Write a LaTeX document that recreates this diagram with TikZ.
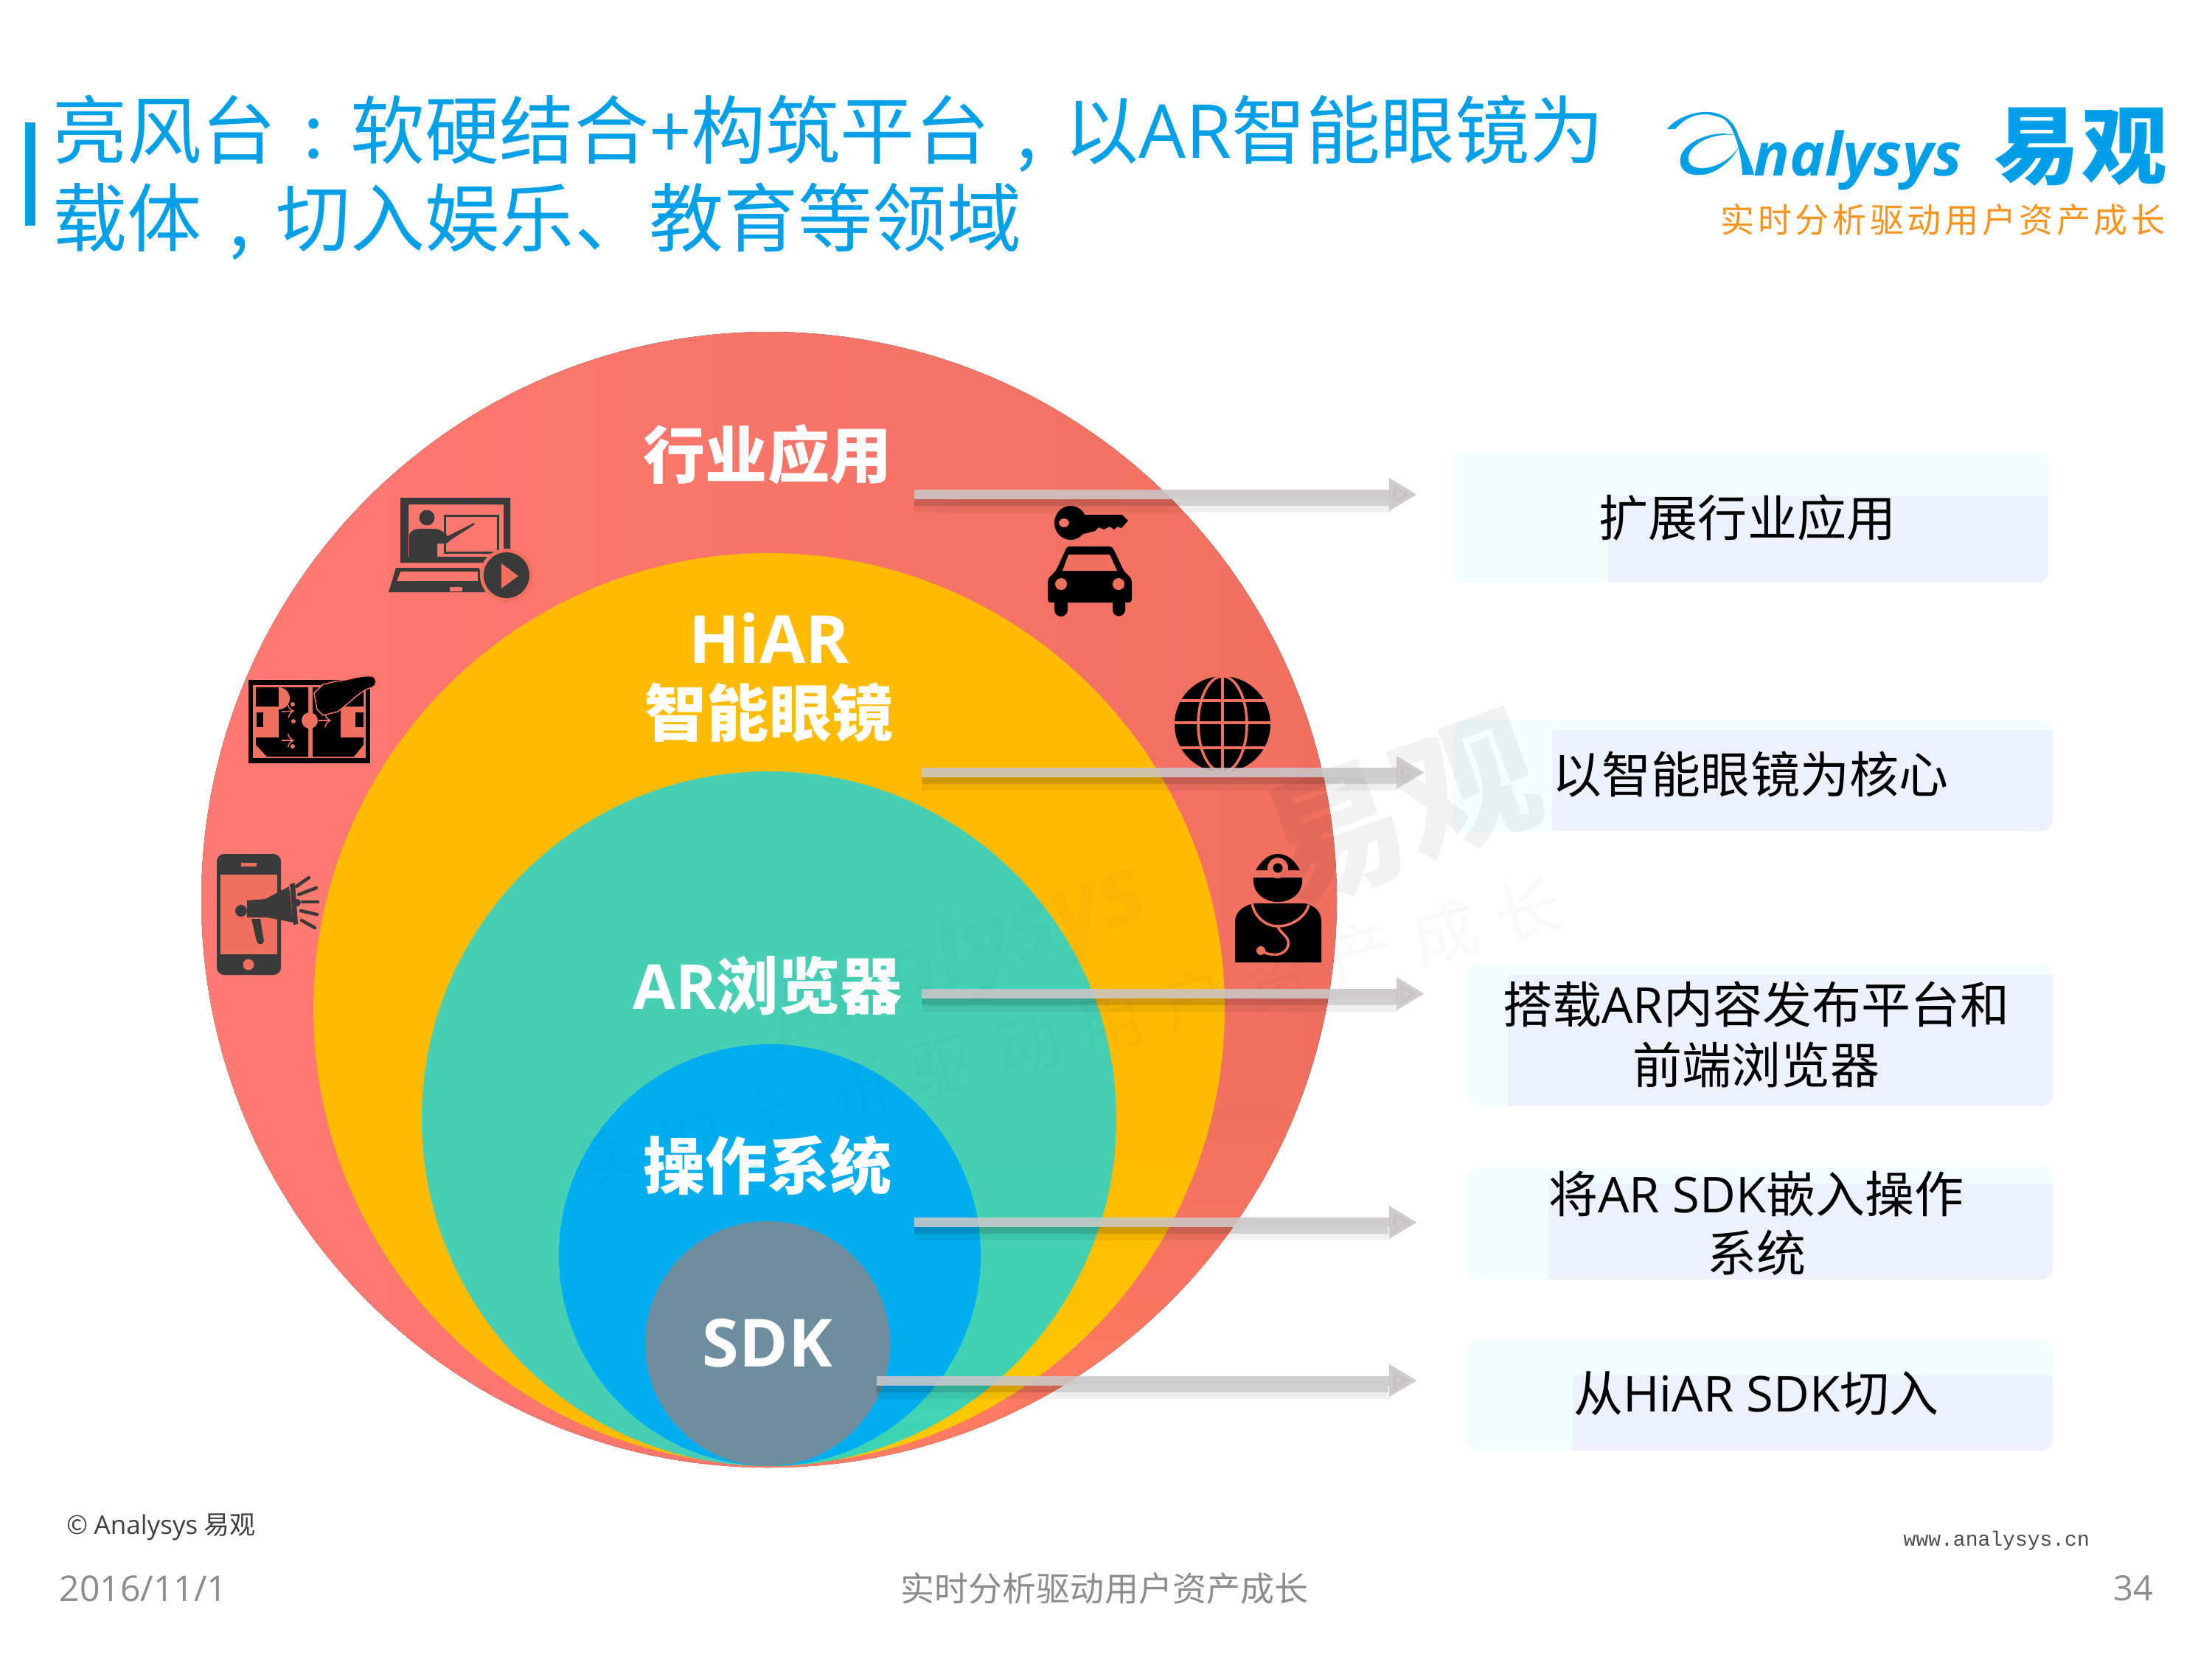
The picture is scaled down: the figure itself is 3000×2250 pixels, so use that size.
\documentclass[tikz,border=0pt]{standalone}
\usepackage{fontspec}
\setmainfont{Noto Sans CJK SC}
\newfontfamily\la{Open Sans}
\newfontfamily\mon{Liberation Mono}
\usetikzlibrary{arrows.meta}
\newcommand\fsz[1]{\fontsize{\fpeval{#1*0.2845}pt}{\fpeval{#1*0.2845*1.2}pt}\selectfont}
\newcommand\px[1]{#1*0.2845pt}
\newcommand\wcol{\makebox[1em][c]{\char"003A}}
\newcommand\wcom{\makebox[1em][c]{\char"002C}}
\definecolor{ttl}{HTML}{00A0E9}
\definecolor{rd}{HTML}{F0705F}
\definecolor{rdl}{HTML}{FF7A72}
\definecolor{rdo}{HTML}{FF7B62}
\definecolor{yl}{HTML}{FFBB00}
\definecolor{yll}{HTML}{FFC800}
\definecolor{tl}{HTML}{46CFB5}
\definecolor{tll}{HTML}{3DD4B5}
\definecolor{bl}{HTML}{00AEEF}
\definecolor{sdk}{HTML}{6E8E9F}
\definecolor{dk}{HTML}{3A3A3A}
\definecolor{pale}{HTML}{F3FEFE}
\definecolor{lav}{HTML}{EDF1FD}
\definecolor{bar}{HTML}{C9C5C7}
\definecolor{ft}{HTML}{8C8C8C}
\definecolor{org}{HTML}{F7931E}
\tikzset{
 wlabel/.style={text=white,font=\bfseries\fsz{84},align=center,inner sep=0pt},
 boxtxt/.style={text=black,font=\fsz{67},align=center,inner sep=0pt},
 footer/.style={text=ft,inner sep=0pt},
 barline/.style={line width=\px{13},color=bar,opacity=.88,-{Triangle[length=\px{38},width=\px{42}]}},
 redline/.style={draw=rd,line width=\px{3.5}},
 ray/.style={draw=dk,line width=\px{4.5},line cap=round}
}
\newcommand\bx[6]{% x1 y1 x2 y2 lavx lavy
 \fill[pale,rounded corners=\px{16}] (#1,#2) rectangle (#3,#4);
 \begin{scope}
 \clip[rounded corners=\px{16}] (#1,#2) rectangle (#3,#4);
 \fill[lav] (#5,#6) rectangle (#3,#4);
 \end{scope}}
\begin{document}
\begin{tikzpicture}[x=0.01cm,y=-0.01cm]
\useasboundingbox (0,0) rectangle (3000,2250);
\fill[white] (0,0) rectangle (3000,2250);

% title
\fill[ttl] (34,166) rectangle (48,306);
\node[anchor=west,text=ttl,inner sep=0pt,font=\fsz{101}] (title1) at (71,181) {亮风台\wcol 软硬结合{\la +}构筑平台\wcom 以{\la AR}智能眼镜为};
\node[anchor=west,text=ttl,inner sep=0pt,font=\fsz{101}] (title2) at (71,300) {载体\wcom 切入娱乐、教育等领域};

% logo
\fill[ttl] (2261,175) .. controls (2280,150) and (2345,135) .. (2358,185) .. controls (2365,200) and (2375,220) .. (2379,237) -- (2363,237) .. controls (2362,205) and (2350,165) .. (2335,160) .. controls (2305,148) and (2285,160) .. (2272,175) -- cycle;
\fill[ttl] (2352,183) .. controls (2320,175) and (2280,195) .. (2279,215) .. controls (2277,235) and (2295,240) .. (2315,236) .. controls (2335,230) and (2350,215) .. (2358,200) .. controls (2345,218) and (2325,228) .. (2308,228) .. controls (2295,228) and (2288,222) .. (2290,212) .. controls (2293,195) and (2322,180) .. (2352,183) -- cycle;
\node[anchor=base west,text=ttl,inner sep=0pt,font=\la\bfseries\itshape\fsz{81}] (lognal) at (2378,238) {nalysys};
\node[anchor=base west,text=ttl,inner sep=0pt,font=\bfseries\fsz{116}\addfontfeature{LetterSpace=2}] (logyi) at (2704,240) {易观};
\node[anchor=base west,text=org,inner sep=0pt,font=\fsz{46}\addfontfeature{LetterSpace=10}] (logsl) at (2333,315) {实时分析驱动用户资产成长};

% circles
\fill[left color=rdl,right color=rd] (1043,1220) circle[radius=770];
\begin{scope}
 \clip (1043,1220) circle[radius=770];
 \shade[top color=rd,bottom color=rdo] (1000,1500) rectangle (1900,1950);
 \fill[rdo] (1000,1950) rectangle (1900,2000);
\end{scope}
\fill[yl] (1043,1368) circle[radius=618];
\begin{scope}
 \clip (1043,1368) circle[radius=618];
 \shade[top color=yl,bottom color=yll] (1000,1560) rectangle (1700,1950);
 \fill[yll] (1000,1950) rectangle (1700,2000);
\end{scope}
\fill[tl] (1043,1517) circle[radius=471];
\begin{scope}
 \clip (1043,1517) circle[radius=471];
 \shade[top color=tl,bottom color=tll] (1000,1560) rectangle (1700,1950);
 \fill[tll] (1000,1950) rectangle (1700,2000);
\end{scope}
\fill[bl] (1044,1702) circle[radius=286];
\fill[sdk] (1041,1822) circle[radius=166];

% labels in circles
\node[wlabel] (l1) at (1041,616) {行业应用};
\node[wlabel,font=\la\bfseries\fsz{90}] (l2) at (1043,865) {HiAR};
\node[wlabel] (l2b) at (1043,966) {智能眼镜};
\node[wlabel] (l3) at (1041,1337) {{\la AR}浏览器};
\node[wlabel] (l4) at (1041,1580) {操作系统};
\node[wlabel,font=\la\bfseries\fsz{90}] (l5) at (1041,1821) {SDK};

% laptop icon
\fill[dk,even odd rule] (543,675) rectangle (692,763) (554,684) rectangle (683,755);
\fill[dk] (579,702) circle[radius=10.5];
\fill[dk] (555,755) -- (555,725) .. controls (556,719) and (565,717) .. (570,717) -- (590,717) .. controls (598,718) and (603,722) .. (607,727) -- (643,709) -- (644,711) -- (610,733) .. controls (607,738) and (602,737) .. (593,737) -- (593,755) -- cycle;
\draw[dk,line width=\px{3}] (603,699) rectangle (675,749);
\fill[dk,even odd rule] (537,770) -- (650,770) -- (658,803) -- (527,803) -- cycle (543,775) -- (648,775) -- (648,788) -- (538,788) -- cycle (610,796) rectangle (627,802);
\fill[rd] (687,780) circle[radius=36];
\fill[dk] (687,780) circle[radius=31];
\fill[rd] (680,764) -- (703,781) -- (680,798) -- cycle;

% tactics board icon
\fill[black] (337,922) rectangle (502,1035);
\fill[rd] (343,929) rectangle (496,1028);
\fill[black] (347,932) -- (418,932) -- (418,1026) -- (362,1026) -- (347,1010) -- (347,1000) -- (378,1000) -- (378,958) -- (347,958) -- (347,945) -- cycle;
\fill[black] (424,932) -- (493,932) -- (493,958) -- (462,958) -- (462,1000) -- (493,1000) -- (493,1010) -- (480,1026) -- (424,1026) -- cycle;
\fill[rd] (420,977) circle[radius=11];
\fill[rd] (378,962) arc[start angle=90,end angle=-90,radius=15] -- cycle;
\fill[rd] (462,962) arc[start angle=90,end angle=270,radius=15] -- cycle;
\fill[black] (348,966) rectangle (357,986);
\fill[black] (482,966) rectangle (493,986);
\draw[rd,line width=\px{1.5},->] (382,965) -- (399,964);
\draw[rd,line width=\px{1.5},->] (382,1004) -- (399,1004);
\draw[rd,line width=\px{1.5},->] (432,977) -- (449,977);
\fill[rd] (397,955) circle[radius=3];
\fill[rd] (398,978) circle[radius=3];
\fill[rd] (397,1012) circle[radius=3];
\fill[rd] (363,964) circle[radius=3];
\fill[black,draw=rd,line width=\px{1.5}] (426,940) -- (438,928) -- (455,924) .. controls (475,922) and (490,915) .. (505,917) .. controls (512,920) and (511,930) .. (505,932) .. controls (490,935) and (478,950) .. (458,965) -- (438,970) -- (430,962) -- cycle;

% phone + megaphone icon
\fill[dk,rounded corners=\px{10}] (294,1158) rectangle (381,1322);
\fill[rd] (299,1186) rectangle (376,1294);
\fill[rd] (327,1170) rectangle (348,1175);
\fill[rd] (337,1308) circle[radius=7.5];
\fill[dk] (335,1221) -- (360,1219) -- (392,1202) -- (398,1251) -- (362,1244) -- (335,1244) -- cycle;
\fill[dk] (327,1235) circle[radius=8];
\fill[dk] (341,1246) -- (353,1246) -- (358,1276) .. controls (356,1282) and (350,1282) .. (348,1276) -- cycle;
\fill[dk] (393,1199) -- (400,1197) -- (404,1253) -- (398,1254) -- cycle;
\fill[dk] (403,1224) circle[radius=5];
\draw[ray] (402,1202) -- (419,1190);
\draw[ray] (405,1213) -- (429,1204);
\draw[ray] (410,1223) -- (431,1223);
\draw[ray] (408,1235) -- (430,1240);
\draw[ray] (409,1248) -- (427,1258);

% key + car icon
\fill[black,even odd rule] (1452,709) ellipse[x radius=22,y radius=23] (1443,709) ellipse[x radius=7,y radius=6];
\fill[black] (1465,698) -- (1522,698) -- (1530,706) -- (1521,716) -- (1516,714) -- (1511,718) -- (1505,714) -- (1497,718) -- (1490,715) -- (1485,720) -- (1466,725) -- cycle;
\fill[black,rounded corners=\px{4}] (1421,817) -- (1421,785) -- (1432,774) -- (1444,748) .. controls (1447,741) and (1450,741) .. (1458,741) -- (1498,741) .. controls (1505,741) and (1508,741) .. (1512,748) -- (1524,774) -- (1535,785) -- (1535,817) -- cycle;
\fill[rd] (1441,774) -- (1449,752) -- (1505,752) -- (1515,774) -- cycle;
\fill[rd] (1439,792) circle[radius=8];
\fill[rd] (1517,792) circle[radius=8];
\fill[black] (1430,815) rectangle (1448,827) (1509,815) rectangle (1526,827);
\fill[black] (1439,827) circle[radius=9];
\fill[black] (1517.5,827) circle[radius=8.5];

% globe icon
\fill[black] (1658,982) circle[radius=65];
\draw[redline] (1658,982) ellipse[x radius=33,y radius=65];
\draw[redline] (1658,917) -- (1658,1047);
\draw[redline] (1600,950) -- (1716,950);
\draw[redline] (1593,980) -- (1723,980);
\draw[redline] (1600,1014) -- (1716,1014);

% doctor icon
\fill[black] (1703,1180) .. controls (1712,1165) and (1722,1158) .. (1733,1158) .. controls (1745,1158) and (1755,1165) .. (1763,1180) -- cycle;
\fill[black] (1700,1190) -- (1766,1190) .. controls (1768,1210) and (1752,1223) .. (1733,1223) .. controls (1714,1223) and (1698,1210) .. (1700,1190) -- cycle;
\fill[rd] (1733,1177) circle[radius=14];
\fill[black] (1733,1177) circle[radius=6.5];
\fill[black] (1675,1305) -- (1675,1250) .. controls (1675,1235) and (1688,1228) .. (1700,1225) -- (1770,1225) .. controls (1782,1228) and (1792,1235) .. (1792,1250) -- (1792,1305) -- cycle;
\draw[redline] (1698,1225) .. controls (1702,1245) and (1718,1256) .. (1733,1256) .. controls (1750,1256) and (1770,1245) .. (1775,1227);
\draw[redline] (1733,1256) .. controls (1735,1265) and (1750,1270) .. (1747,1282) .. controls (1744,1296) and (1725,1298) .. (1710,1289);
\fill[rd] (1710,1289) circle[radius=6];

% boxes
\bx{1971}{612}{2778}{790}{2181}{673}
\bx{1971}{976}{2784}{1127}{2105}{990}
\bx{1990}{1307}{2784}{1500}{2045}{1322}
\bx{1990}{1582}{2784}{1735}{2100}{1605}
\bx{1990}{1816}{2784}{1967}{2133}{1865}

% watermark (very faint)
\node[rotate=20,text=black,opacity=.025,inner sep=0pt,font=\la\bfseries\itshape\fsz{130}] (wm1) at (1300,1300) {Analysys};
\node[rotate=15,text=black,opacity=.025,inner sep=0pt,font=\fsz{90}\addfontfeature{LetterSpace=30}] (wm3) at (1450,1400) {实时分析驱动用户资产成长};
\node[rotate=20,text=black,opacity=.05,inner sep=0pt,font=\bfseries\fsz{190}] (wm2) at (1900,1100) {易观};

\node[boxtxt] (b1) at (2370,702) {扩展行业应用};
\node[boxtxt] (b2) at (2374,1050) {以智能眼镜为核心};
\node[boxtxt] (b3a) at (2382,1362) {搭载{\la AR}内容发布平台和};
\node[boxtxt] (b3b) at (2382,1444) {前端浏览器};
\node[boxtxt] (b4a) at (2382,1619) {将{\la AR SDK}嵌入操作};
\node[boxtxt] (b4b) at (2382,1699) {系统};
\node[boxtxt] (b5) at (2382,1890) {从{\la HiAR SDK}切入};

% connector end points
\coordinate (s1) at (1240,670.5); \coordinate (t1) at (1922,670.5);
\coordinate (s2) at (1250,1047.5); \coordinate (t2) at (1932,1047.5);
\coordinate (s3) at (1250,1347.5); \coordinate (t3) at (1932,1347.5);
\coordinate (s4) at (1240,1657.5); \coordinate (t4) at (1922,1657.5);
\coordinate (s5) at (1189,1872); \coordinate (t5) at (1922,1872);

% shadows under connectors + connectors
\foreach \n/\xa/\xb/\yy in {1/1240/1885/677,2/1250/1895/1054,3/1250/1895/1354,4/1240/1883/1664,5/1189/1883/1879}{
 \fill[black,opacity=.18] (\xa,\yy) rectangle (\xb,\yy+9);
 \fill[black,opacity=.06] (\xa,\yy+9) rectangle (\xb,\yy+18);
}
\foreach \n in {1,...,5}{ \draw[barline] (s\n) -- (t\n); }

% footer
\node[anchor=west,inner sep=0pt,text=black!75,font=\fsz{35}] (f1) at (90,2071) {© {\la Analysys} 易观};
\node[anchor=west,footer,font=\la\fsz{48}] (f2) at (80,2154) {2016/11/1};
\node[footer,font=\fsz{46}] (f3) at (1498,2154) {实时分析驱动用户资产成长};
\node[footer,font=\la\fsz{47}] (f4) at (2893,2154) {34};
\node[anchor=west,inner sep=0pt,text=black!70,font=\mon\fsz{28}] (f5) at (2581,2089) {www.analysys.cn};
\end{tikzpicture}
\end{document}
